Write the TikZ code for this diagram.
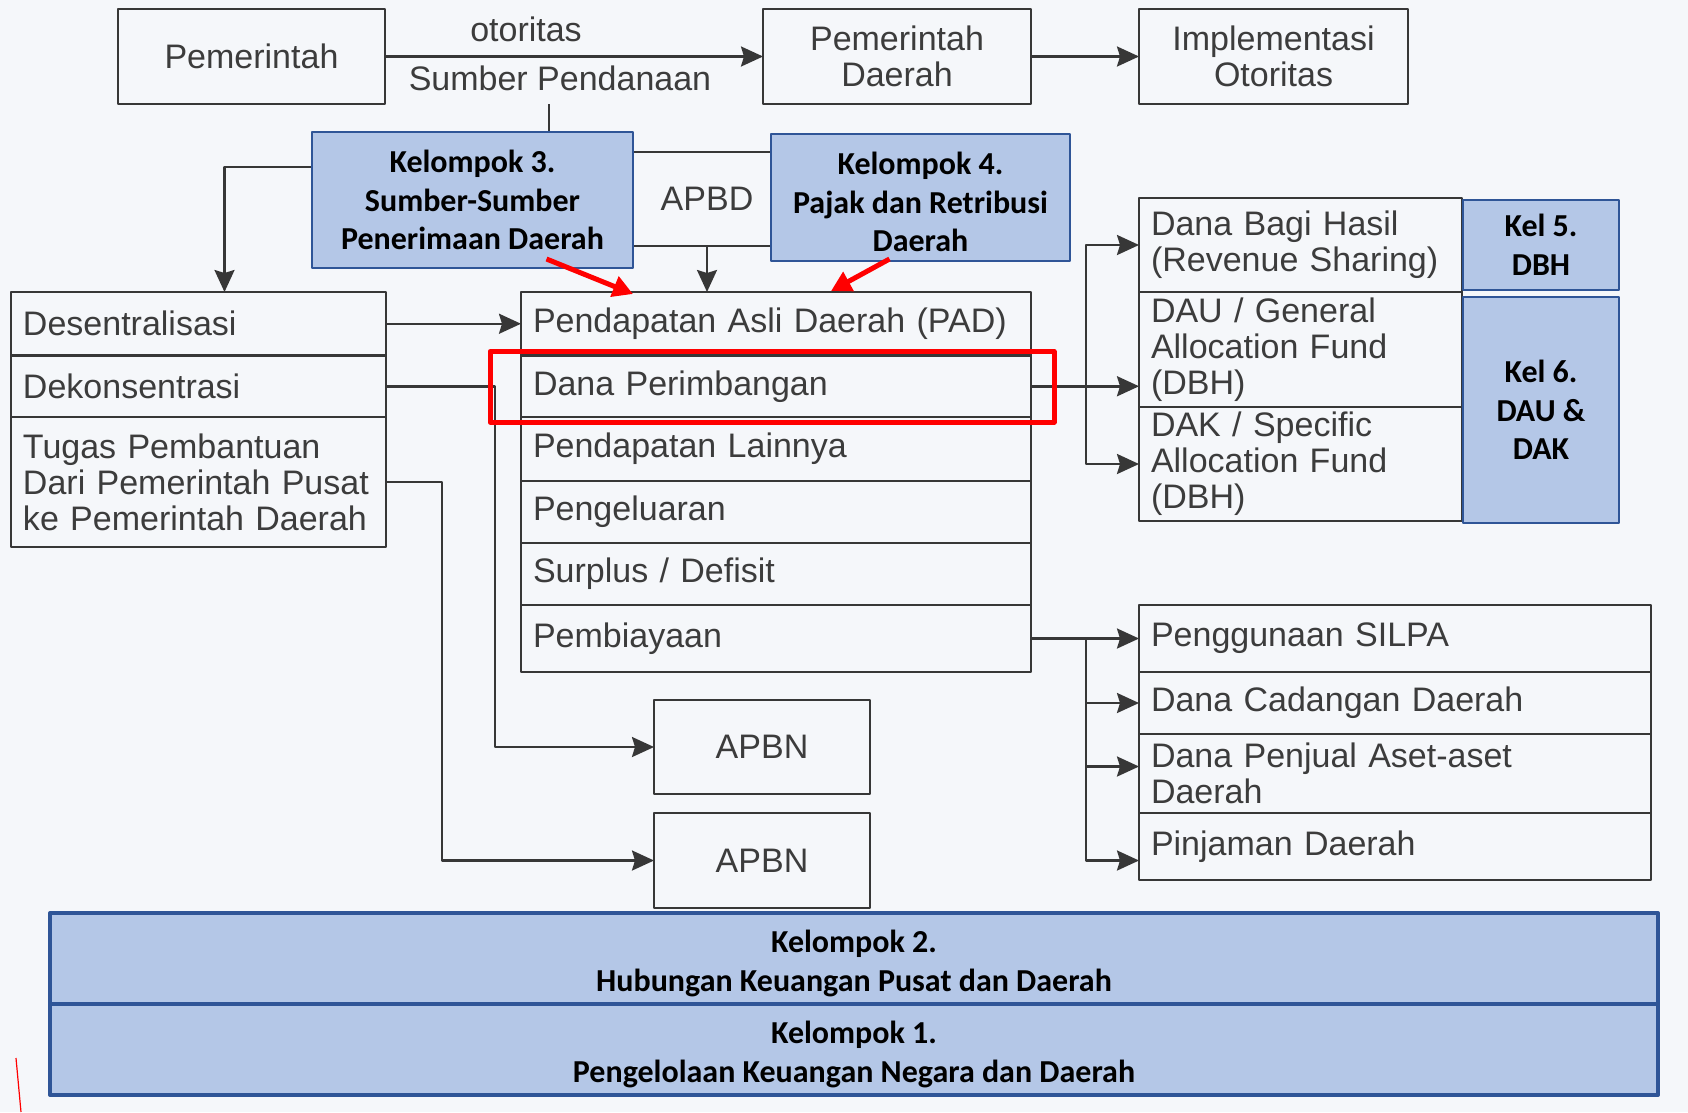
\documentclass[tikz,border=0pt]{standalone}
\usepackage{fontspec}
\setmainfont{Liberation Sans}
\newfontfamily\calibri{Carlito}
\usetikzlibrary{arrows.meta}
\definecolor{bgc}{RGB}{245,247,250}
\definecolor{linec}{RGB}{55,55,55}
\definecolor{txtc}{RGB}{60,60,60}
\definecolor{kelfill}{RGB}{180,199,231}
\definecolor{keldraw}{RGB}{47,85,151}

\begin{document}
\begin{tikzpicture}[x=1pt,y=-1pt,line join=round,
    >={Stealth[length=22pt,width=20pt,inset=3pt]},
    every node/.style={text=txtc,font=\fontsize{34}{36}\selectfont},
    gbox/.style={draw=linec,line width=2.5pt,outer sep=0pt,align=center,anchor=north west},
    lbox/.style={draw=linec,line width=2.5pt,outer sep=0pt,align=left,anchor=north west,text width=#1,inner xsep=12pt},
    kel/.style={draw=keldraw,line width=2.5pt,outer sep=0pt,fill=kelfill,align=center,anchor=north west,text=black,font=\calibri\bfseries\fontsize{32}{38.5}\selectfont},
    conn/.style={draw=linec,line width=2.5pt},
    redarr/.style={draw=red,line width=5pt,-{Triangle[length=20pt,width=21pt]}}]
	\fill[bgc] (0,0) rectangle (1688,1112);
	\useasboundingbox (0,0) rectangle (1688,1112);
	
	\node[gbox,minimum width=267pt,minimum height=95pt] (pem) at (118,9) {Pemerintah};
	\node[gbox,minimum width=268pt,minimum height=95pt] (pemda) at (763,9) {Pemerintah\\Daerah};
	\node[gbox,minimum width=269pt,minimum height=95pt] (impl) at (1139,9) {Implementasi\\Otoritas};
	\node (otor) at (526,29) {otoritas};
	\node (sumber) at (560,78) {Sumber Pendanaan};
	
	\node[gbox,minimum width=334pt,minimum height=94pt] (apbd) at (540,152) {APBD};
	
	\node[lbox=351pt,minimum height=63.5pt] (desen) at (11,292) {Desentralisasi};
	\node[lbox=351pt,minimum height=61.5pt] (dekon) at (desen.south west) {Dekonsentrasi};
	\node[lbox=351pt,minimum height=130pt] (tugas) at (dekon.south west) {Tugas Pembantuan\\Dari Pemerintah Pusat\\ke Pemerintah Daerah};
	
	\node[lbox=486pt,minimum height=63.5pt] (pad) at (521,292) {Pendapatan Asli Daerah (PAD)};
	\node[lbox=486pt,minimum height=61.5pt] (danap) at (pad.south west) {Dana Perimbangan};
	\node[lbox=486pt,minimum height=64pt] (lain) at (danap.south west) {Pendapatan Lainnya};
	\node[lbox=486pt,minimum height=62pt] (keluar) at (lain.south west) {Pengeluaran};
	\node[lbox=486pt,minimum height=62pt] (surplus) at (keluar.south west) {Surplus / Defisit};
	\node[lbox=486pt,minimum height=67pt] (pemb) at (surplus.south west) {Pembiayaan};
	
	\node[gbox,minimum width=216pt,minimum height=94pt] (apbn1) at (654,700) {APBN};
	\node[gbox,minimum width=216pt,minimum height=95pt] (apbn2) at (654,813) {APBN};
	
	\node[lbox=299pt,minimum height=94pt] (dbh) at (1139,198) {Dana Bagi Hasil\\(Revenue Sharing)};
	\node[lbox=299pt,minimum height=115pt] (dau) at (dbh.south west) {DAU / General\\Allocation Fund\\(DBH)};
	\node[lbox=299pt,minimum height=114pt] (dak) at (dau.south west) {DAK / Specific\\Allocation Fund\\(DBH)};
	
	\node[lbox=488pt,minimum height=67pt] (silpa) at (1139,605) {Penggunaan SILPA};
	\node[lbox=488pt,minimum height=62pt] (cad) at (silpa.south west) {Dana Cadangan Daerah};
	\node[lbox=488pt,minimum height=79pt] (jual) at (cad.south west) {Dana Penjual Aset-aset\\Daerah};
	\node[lbox=488pt,minimum height=67pt] (pinj) at (jual.south west) {Pinjaman Daerah};
	
	\draw[conn,->] (pem) -- (pemda);
	\draw[conn,->] (pemda) -- (impl);
	\coordinate (sptop) at ([xshift=9pt]apbd.north west);
	\draw[conn] (sptop |- pem.south) -- (sptop);
	\draw[conn,->] (apbd) -- (apbd |- pad.north);
	\coordinate (brl) at ([yshift=-15pt]apbd.north west);
	\draw[conn,->] (brl) -| ([xshift=26pt]desen.north);
	
	\draw[conn,->] (desen) -- (pad);
	\draw[conn,->] (dekon.east) -- ++(109,0) |- (apbn1.west);
	\draw[conn,->] (tugas.east) -- ++(56,0) |- (apbn2.west);
	
	\draw[conn,->] (danap.east) -- (danap.east -| dau.west);
	\coordinate (dbr) at ([xshift=55pt]danap.east);
	\draw[conn,->] (dbr) |- (dbh.west);
	\draw[conn,->] (dbr) |- (dak.west);
	
	\draw[conn,->] (pemb) -- (silpa);
	\coordinate (pbr) at ([xshift=55pt]pemb.east);
	\draw[conn,->] (pbr) |- (cad.west);
	\draw[conn,->] (pbr) |- ([yshift=7pt]jual.west);
	\draw[conn,->] (pbr) |- ([yshift=-14pt]pinj.west);
	
	\node[kel,minimum width=321pt,minimum height=136pt] (kel3) at (312,132) {Kelompok 3.\\Sumber-Sumber\\Penerimaan Daerah};
	\node[kel,minimum width=299pt,minimum height=127pt] (kel4) at (771,134) {\rule{0pt}{32pt}Kelompok 4.\\Pajak dan Retribusi\\Daerah};
	\node[kel,minimum width=156pt,minimum height=90pt] (kel5) at (1463,200) {Kel 5.\\DBH};
	\node[kel,minimum width=156pt,minimum height=226pt] (kel6) at (1463,297) {Kel 6.\\DAU \&\\DAK};
	\node[kel,minimum width=1608pt,minimum height=91pt,line width=4pt] (kel2) at (50,913) {\rule{0pt}{32pt}Kelompok 2.\\Hubungan Keuangan Pusat dan Daerah};
	\node[kel,minimum width=1608pt,minimum height=91pt,line width=4pt] (kel1) at (50,1004) {\rule{0pt}{32pt}Kelompok 1.\\Pengelolaan Keuangan Negara dan Daerah};
	
	\draw[redarr] ([xshift=74pt,yshift=9pt]kel3.south) -- ([xshift=112pt,yshift=-2pt]pad.north west);
	\draw[redarr] ([xshift=-31pt,yshift=2pt]kel4.south) -- ([xshift=310pt,yshift=1pt]pad.north west);
	\draw[red,line width=5pt] ([xshift=-31pt,yshift=4pt]danap.north west) rectangle ([xshift=23pt,yshift=-5pt]danap.south east);
	\draw[red,line width=1.2pt] (16,1058) .. controls (19,1085) .. (21,1112);
\end{tikzpicture}
\end{document}
